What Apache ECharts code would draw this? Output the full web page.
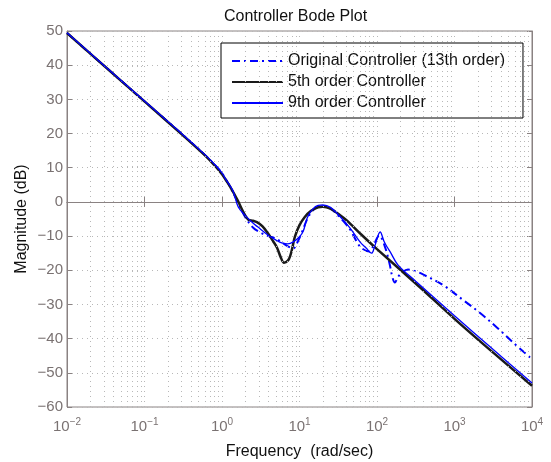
<!DOCTYPE html>
<html>
<head>
<meta charset="utf-8">
<script src="https://cdn.jsdelivr.net/npm/echarts@6/dist/echarts.min.js"></script>
<style>html,body{margin:0;padding:0;background:#fff}#c{width:551px;height:462px}</style>
</head>
<body>
<div id="c"></div>
<script>
// Frequencies in rad/sec, magnitudes in dB
const freqOrig = [0.01,0.0316,0.1,0.316,0.631,0.794,1,1.12,1.26,1.58,2.0,2.51,3.16,3.98,4.79,5.62,7.08,8.32,9.55,10.7,12.6,14.8,17.8,20,25.1,33.1,44.7,55,63.1,79.4,89.1,107,126,145,158,170,186,214,251,316,398,708,1290,2140,3550,5750,10000];
const magOrig  = [49.4,39.4,29.4,19.5,13.3,11.0,8.4,6.6,4.6,0.1,-4.5,-7.5,-9.0,-10.0,-10.6,-11.5,-13.0,-13.6,-11.5,-9.0,-5.0,-2.5,-1.3,-1.2,-2.0,-4.5,-8.0,-11.7,-13.5,-14.5,-13.0,-9.8,-13.0,-18.0,-22.0,-23.6,-22.0,-20.5,-19.8,-20.3,-21.3,-24.3,-28.7,-32.5,-36.8,-41.2,-46.0];

const freq5 = [0.01,0.0316,0.1,0.316,0.631,0.794,1,1.12,1.26,1.58,1.82,2.0,2.19,2.51,2.82,3.31,3.89,4.57,5.13,5.75,6.31,7.08,7.59,8.13,8.71,10,11.7,14.1,17.4,20,25.1,33.1,40.7,63.1,100,355,1000,3160,10000];
const mag5  = [49.4,39.4,29.4,19.4,13.2,10.8,8.1,6.4,4.6,0.6,-2.3,-4.0,-5.2,-5.5,-5.9,-7.1,-9.1,-11.5,-13.4,-16.3,-17.8,-17.2,-15.8,-13.2,-10.2,-6.8,-4.4,-2.6,-1.6,-1.4,-2.0,-3.8,-5.4,-9.6,-13.8,-24.9,-34.2,-44.1,-53.8];

const freq9 = [0.01,0.0316,0.1,0.316,0.631,0.794,1,1.12,1.38,1.62,2.0,2.51,2.88,3.98,5.01,5.89,7.08,8.32,10,11.2,12.6,14.8,17.4,20,25.1,33.1,44.7,60.3,72.4,85.1,93.3,110,123,135,148,186,316,1000,3160,10000];
const mag9  = [49.5,39.5,29.5,19.6,13.4,11.1,8.5,6.6,3.3,-1.5,-4.0,-6.2,-7.3,-9.8,-11.2,-12.0,-12.3,-11.7,-10.2,-8.5,-4.6,-2.1,-1.0,-0.9,-1.6,-4.2,-7.6,-11.7,-13.5,-15.0,-13.0,-8.8,-11.5,-13.2,-14.6,-18.4,-23.2,-33.3,-43.2,-53.0];

const seriesNames = ['Original Controller (13th order)', '5th order Controller', '9th order Controller'];
const yTicks = {min: -60, max: 50, step: 10};
const xRange = {min: 0.01, max: 10000};
const minorMultipliers = [2,3,4,5,6,7,8,9];
const decades = [0.01,0.1,1,10,100,1000];

const pair = (f, m) => f.map((v, i) => [v, m[i]]);
const minorGrid = [];
decades.forEach(d => minorMultipliers.forEach(k => minorGrid.push({xAxis: +(d * k).toPrecision(3)})));

const frameColor = '#8a8282';
const labelColor = '#7a7272';
const gridLine = {type: [1, 4], color: '#b8b8b8', width: 1};
const fontFam = 'Liberation Sans, Arial, sans-serif';
const minus = s => String(s).replace('-', '\u2212');

const chart = echarts.init(document.getElementById('c'), null, {renderer: 'canvas'});
chart.setOption({
  animation: false,
  backgroundColor: '#fff',
  textStyle: {fontFamily: fontFam},
  title: {
    text: 'Controller Bode Plot', left: 219, top: 4,
    textStyle: {fontSize: 16, fontWeight: 'normal', color: '#111', fontFamily: fontFam}
  },
  grid: {left: 67, right: 19, top: 31, bottom: 55, show: true, borderColor: frameColor, borderWidth: 1,
         backgroundColor: '#fff', containLabel: false, outerBoundsMode: 'none'},
  legend: {
    data: seriesNames, orient: 'vertical', left: 221, top: 43,
    padding: [10, 18, 7, 10], itemWidth: 51, itemHeight: 14, itemGap: 5,
    borderColor: '#000', borderWidth: 1, backgroundColor: '#fff',
    itemStyle: {opacity: 0, borderWidth: 0, color: 'transparent', borderColor: 'transparent'},
    textStyle: {fontSize: 16, color: '#111', fontFamily: fontFam}
  },
  xAxis: [{
    type: 'log', logBase: 10, min: xRange.min, max: xRange.max, splitNumber: 6,
    name: 'Frequency  (rad/sec)', nameLocation: 'middle', nameGap: 37, nameMoveOverlap: false,
    nameTextStyle: {fontSize: 16, color: '#111', fontFamily: fontFam},
    axisLine: {show: true, lineStyle: {color: frameColor, width: 1}},
    axisTick: {show: true, inside: true, length: 5, lineStyle: {color: frameColor}},
    splitLine: {show: true, lineStyle: gridLine},
    axisLabel: {
      margin: 10,
      formatter: v => '{b|10}{s|' + minus(Math.round(Math.log10(v))) + '}',
      rich: {
        b: {fontSize: 15, color: labelColor, fontFamily: fontFam},
        s: {fontSize: 10, color: labelColor, fontFamily: fontFam, padding: [0, 0, 9, 0]}
      }
    }
  }, {
    type: 'log', logBase: 10, min: xRange.min, max: xRange.max, splitNumber: 6, position: 'top',
    axisLine: {show: true, lineStyle: {color: frameColor}},
    axisTick: {show: true, inside: true, length: 5, lineStyle: {color: frameColor}},
    axisLabel: {show: false}, splitLine: {show: false}
  }],
  yAxis: [{
    type: 'value', min: yTicks.min, max: yTicks.max, interval: yTicks.step,
    name: 'Magnitude (dB)', nameLocation: 'middle', nameGap: 37, nameMoveOverlap: false,
    nameTextStyle: {fontSize: 16, color: '#111', fontFamily: fontFam},
    axisLine: {show: true, lineStyle: {color: frameColor}},
    axisTick: {show: true, inside: true, length: 5, lineStyle: {color: frameColor}},
    splitLine: {show: true, lineStyle: gridLine},
    axisLabel: {fontSize: 15, color: labelColor, margin: 4, fontFamily: fontFam, formatter: v => minus(v)}
  }, {
    type: 'value', min: yTicks.min, max: yTicks.max, interval: yTicks.step, position: 'right',
    axisLine: {show: true, lineStyle: {color: frameColor}},
    axisTick: {show: true, inside: true, length: 5, lineStyle: {color: frameColor}},
    axisLabel: {show: false}, splitLine: {show: false}
  }],
  series: [
    {
      type: 'line', data: [], silent: true, z: 1,
      markLine: {silent: true, symbol: 'none', label: {show: false}, lineStyle: gridLine, data: minorGrid, animation: false}
    },
    {
      name: seriesNames[0], type: 'line', data: pair(freqOrig, magOrig), showSymbol: false, symbol: 'none', smooth: 0.35, z: 3,
      lineStyle: {color: '#0000ff', width: 2, type: [8, 4, 2, 4]}, itemStyle: {color: '#0000ff'}
    },
    {
      name: seriesNames[1], type: 'line', data: pair(freq5, mag5), showSymbol: false, symbol: 'none', smooth: 0.35, z: 4,
      lineStyle: {color: '#1a1a1a', width: 2.5}, itemStyle: {color: '#1a1a1a'}
    },
    {
      name: seriesNames[2], type: 'line', data: pair(freq9, mag9), showSymbol: false, symbol: 'none', smooth: 0.35, z: 5,
      lineStyle: {color: '#0000ff', width: 1.3, type: 'solid'}, itemStyle: {color: '#0000ff'}
    }
  ]
});
</script>
</body>
</html>
